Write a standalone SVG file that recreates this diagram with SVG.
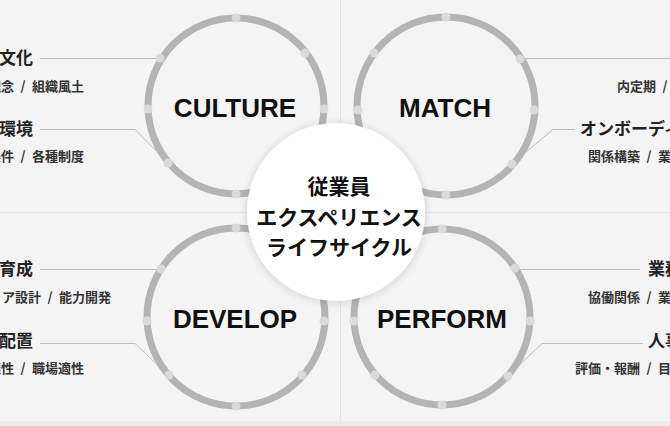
<svg xmlns="http://www.w3.org/2000/svg" width="670" height="426" viewBox="0 0 670 426">
<defs>
<style>
.bg{fill:#f4f4f4}
.div{stroke:#e3e3e3;stroke-width:1;fill:none}
.ring{fill:none;stroke:#b4b4b4;stroke-width:7}
.dot{fill:#dadada}
.conn{fill:none;stroke:#bdbdbd;stroke-width:1}
.en{font-family:"Liberation Sans",Arial,sans-serif;font-weight:700;font-size:26px;fill:#111;text-anchor:middle}
.t{font-family:"Noto Sans CJK JP","Noto Sans",sans-serif;font-weight:700;font-size:17px;fill:#222}
.s{font-family:"Noto Sans CJK JP","Noto Sans",sans-serif;font-weight:700;font-size:13px;fill:#333}
.c{font-family:"Noto Sans CJK JP","Noto Sans",sans-serif;font-weight:700;font-size:21px;fill:#111;text-anchor:middle}
.e{text-anchor:end}
</style>
<filter id="sh" x="-20%" y="-20%" width="140%" height="140%">
<feDropShadow dx="0" dy="1" stdDeviation="4" flood-color="#000" flood-opacity="0.16"/>
</filter>
</defs>
<rect class="bg" x="0" y="0" width="670" height="426"/>
<rect x="0" y="421" width="670" height="5" fill="#ececec"/>
<g id="dividers">
<path class="div" d="M340.5,0 V421 M0,212.5 H670"/>
</g>
<g id="connectors">
<path class="conn" d="M40,58.5 H157"/>
<path class="conn" d="M40,129.5 H135 L166,161"/>
<path class="conn" d="M40,269.5 H158"/>
<path class="conn" d="M40,343.5 H135 L166,373"/>
<path class="conn" d="M524,58.5 H670"/>
<path class="conn" d="M575,129.5 H553 L514,162"/>
<path class="conn" d="M519,269.5 H640"/>
<path class="conn" d="M643,343.5 H542 L510,374"/>
</g>
<g id="culture">
<circle class="ring" cx="236" cy="106" r="88"/>
<circle class="dot" cx="236" cy="18" r="4.5"/>
<circle class="dot" cx="305" cy="53" r="4.5"/>
<circle class="dot" cx="324" cy="109" r="4.5"/>
<circle class="dot" cx="236" cy="194" r="4.5"/>
<circle class="dot" cx="168" cy="163" r="4.5"/>
<circle class="dot" cx="148" cy="109" r="4.5"/>
<circle class="dot" cx="160" cy="58" r="4.5"/>
<text class="en" x="235" y="117">CULTURE</text>
</g>
<g id="match">
<circle class="ring" cx="446" cy="106" r="89"/>
<circle class="dot" cx="446" cy="17" r="4.5"/>
<circle class="dot" cx="520" cy="59" r="4.5"/>
<circle class="dot" cx="534" cy="110" r="4.5"/>
<circle class="dot" cx="512" cy="164" r="4.5"/>
<circle class="dot" cx="446" cy="195" r="4.5"/>
<circle class="dot" cx="374" cy="53" r="4.5"/>
<circle class="dot" cx="358" cy="110" r="4.5"/>
<text class="en" x="445" y="117">MATCH</text>
</g>
<g id="develop">
<circle class="ring" cx="236" cy="317" r="89"/>
<circle class="dot" cx="236" cy="228" r="4.5"/>
<circle class="dot" cx="161" cy="269" r="4.5"/>
<circle class="dot" cx="147" cy="321" r="4.5"/>
<circle class="dot" cx="169" cy="375" r="4.5"/>
<circle class="dot" cx="236" cy="406" r="4.5"/>
<circle class="dot" cx="302" cy="375" r="4.5"/>
<circle class="dot" cx="324" cy="321" r="4.5"/>
<text class="en" x="235" y="328">DEVELOP</text>
</g>
<g id="perform">
<circle class="ring" cx="442" cy="317" r="88"/>
<circle class="dot" cx="442" cy="229" r="4.5"/>
<circle class="dot" cx="515" cy="268" r="4.5"/>
<circle class="dot" cx="530" cy="321" r="4.5"/>
<circle class="dot" cx="508" cy="376" r="4.5"/>
<circle class="dot" cx="442" cy="405" r="4.5"/>
<circle class="dot" cx="375" cy="375" r="4.5"/>
<circle class="dot" cx="354" cy="321" r="4.5"/>
<text class="en" x="442" y="328">PERFORM</text>
</g>
<g id="center">
<circle cx="336" cy="212" r="89" fill="#fff" filter="url(#sh)"/>
<text class="c" x="339" y="194">従業員</text>
<text class="c" x="339" y="225">エクスペリエンス</text>
<text class="c" x="339" y="255">ライフサイクル</text>
</g>
<g id="label-culture-1">
<text class="t e" x="33" y="64">企業文化</text>
<text class="s e" x="84" y="91">経営理念&#x2002;/&#x2002;組織風土</text>
</g>
<g id="label-culture-2">
<text class="t e" x="33" y="135">職場環境</text>
<text class="s e" x="84" y="161">労働条件&#x2002;/&#x2002;各種制度</text>
</g>
<g id="label-develop-1">
<text class="t e" x="33" y="275">人材育成</text>
<text class="s e" x="111" y="302">キャリア設計&#x2002;/&#x2002;能力開発</text>
</g>
<g id="label-develop-2">
<text class="t e" x="33" y="347">適正配置</text>
<text class="s e" x="84" y="373">個人適性&#x2002;/&#x2002;職場適性</text>
</g>
<g id="label-match-1">
<text class="s" x="617" y="91">内定期&#x2002;/&#x2002;入社前</text>
</g>
<g id="label-match-2">
<text class="t" x="580" y="135">オンボーディング</text>
<text class="s" x="588" y="161">関係構築&#x2002;/&#x2002;業務理解</text>
</g>
<g id="label-perform-1">
<text class="t" x="648" y="275">業務遂行</text>
<text class="s" x="588" y="302">協働関係&#x2002;/&#x2002;業務成果</text>
</g>
<g id="label-perform-2">
<text class="t" x="648" y="347">人事評価</text>
<text class="s" x="575" y="373">評価・報酬&#x2002;/&#x2002;目標管理</text>
</g>
</svg>
